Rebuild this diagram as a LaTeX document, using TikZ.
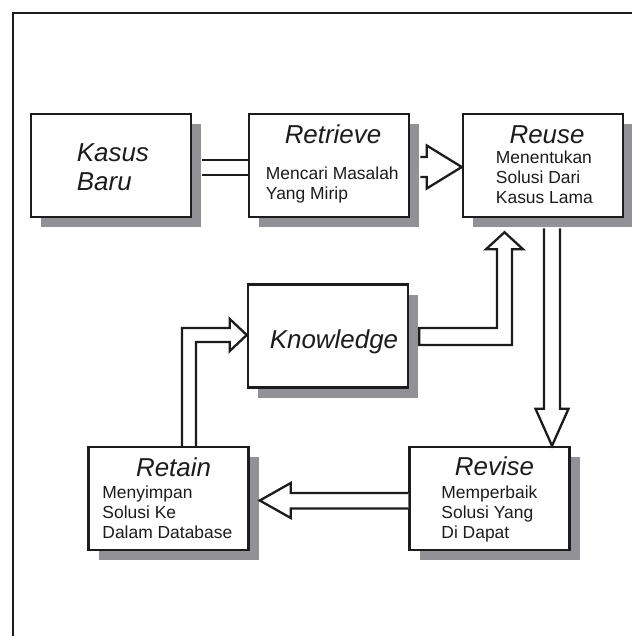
\documentclass[tikz,border=0pt]{standalone}
\usepackage{fontspec}
\setmainfont{Liberation Sans}
\usepackage{tikz}
\usetikzlibrary{positioning,calc,shadows}
\definecolor{bayang}{RGB}{146,146,150}
\definecolor{tinta}{RGB}{28,28,28}

\begin{document}
\begin{tikzpicture}[x=1bp,y=-1bp,
    blok/.style={draw=tinta,line width=2.5bp,fill=white,minimum width=160bp,minimum height=103bp,inner sep=0pt,
      drop shadow={shadow xshift=10bp,shadow yshift=-10bp,fill=bayang,opacity=1}},
    judul/.style={font=\fontsize{26}{29}\selectfont\itshape,anchor=base,inner sep=0pt,text=tinta},
    isi/.style={font=\fontsize{17.5}{20}\selectfont,align=left,anchor=base west,inner sep=0pt,text=tinta},
    panah/.style={draw=tinta,fill=white,line width=2.3bp,line join=miter},
    garis/.style={draw=tinta,line width=2.3bp}]
                \useasboundingbox (0,0) rectangle (632,636);
                \draw[tinta,line width=2.5bp] (13,13) rectangle (700,700);

                \node[blok] (kasus) at (111,165.5) {};
                \node[blok] (retrieve) at (329,165.5) {};
                \node[blok] (reuse) at (543,165.5) {};
                \node[blok] (knowledge) at (328,336) {};
                \node[blok] (retain) at (168.5,498.5) {};
                \node[blok] (revise) at (489.5,498.5) {};

                % base of a multi-line node = baseline of its last line
                \node[judul,anchor=base west,align=left] (kasus-t) at ($(kasus.north west)+(47,78)$) {Kasus\\Baru};
                \node[judul] (retrieve-t) at ($(retrieve.north)+(4,31)$) {Retrieve};
                \node[isi] (retrieve-i) at ($(retrieve.north west)+(18,87)$) {Mencari Masalah\\Yang Mirip};
                \node[judul] (reuse-t) at ($(reuse.north)+(4,31)$) {Reuse};
                \node[isi] (reuse-i) at ($(reuse.north west)+(34,91)$) {Menentukan\\Solusi Dari\\Kasus Lama};
                \node[judul] (knowledge-t) at ($(knowledge.center)+(6,12)$) {Knowledge};
                \node[judul] (retain-t) at ($(retain.north)+(5,30.5)$) {Retain};
                \node[isi] (retain-i) at ($(retain.north west)+(15,93)$) {Menyimpan\\Solusi Ke\\Dalam Database};
                \node[judul] (revise-t) at ($(revise.north)+(5,30)$) {Revise};
                \node[isi] (revise-i) at ($(revise.north west)+(33,93)$) {Memperbaik\\Solusi Yang\\Di Dapat};

                \coordinate (u3) at ($(reuse.south)+(9,0)$);
                \coordinate (r5) at ($(retain.north)+(13.5,0)$);
                \coordinate (k6) at ($(reuse.south)+(-38.5,0)$);

                \draw[garis] ($(kasus.east)+(10,-5.5)$) -- ($(retrieve.west)+(0,-5.5)$);
                \draw[garis] ($(kasus.east)+(10,9.5)$) -- ($(retrieve.west)+(0,9.5)$);
                \path[panah] ($(retrieve.east)+(10,-8.5)$) -- ($(reuse.west)+(-35,-8.5)$) -- ($(reuse.west)+(-35,-20)$)
                    -- ($(reuse.west)+(0,1.5)$) -- ($(reuse.west)+(-35,23)$) -- ($(reuse.west)+(-35,11.5)$) -- ($(retrieve.east)+(10,11.5)$);
                \path[panah] ($(u3)+(-8,10)$) -- ($(u3 |- revise.north)+(-8,-37)$) -- ($(u3 |- revise.north)+(-16.5,-37)$)
                    -- (u3 |- revise.north) -- ($(u3 |- revise.north)+(16.5,-37)$) -- ($(u3 |- revise.north)+(8,-37)$) -- ($(u3)+(8,10)$);
                \path[panah] ($(revise.west)+(0,-5.5)$) -- ($(retain.east)+(41,-5.5)$) -- ($(retain.east)+(41,-15.5)$)
                    -- ($(retain.east)+(10,2)$) -- ($(retain.east)+(41,19.5)$) -- ($(retain.east)+(41,10)$) -- ($(revise.west)+(0,10)$);
                \path[panah] (r5) -- ($(r5 |- knowledge.west)+(0,-8)$) -- ($(knowledge.west)+(-17,-8)$) -- ($(knowledge.west)+(-17,-17)$)
                    -- ($(knowledge.west)+(0,-1)$) -- ($(knowledge.west)+(-17,15)$) -- ($(knowledge.west)+(-17,6)$)
                    -- ($(r5 |- knowledge.west)+(14,6)$) -- ($(r5)+(14,0)$);
                \path[panah] ($(knowledge.east)+(10,-8)$) -- ($(k6 |- knowledge.east)+(-7.5,-8)$) -- ($(k6)+(-7.5,31)$) -- ($(k6)+(-18.5,31)$)
                    -- ($(k6)+(0,14)$) -- ($(k6)+(18.5,31)$) -- ($(k6)+(7.5,31)$) -- ($(k6 |- knowledge.east)+(7.5,9)$)
                    -- ($(knowledge.east)+(10,9)$) -- cycle;
            \end{tikzpicture}
\end{document}
